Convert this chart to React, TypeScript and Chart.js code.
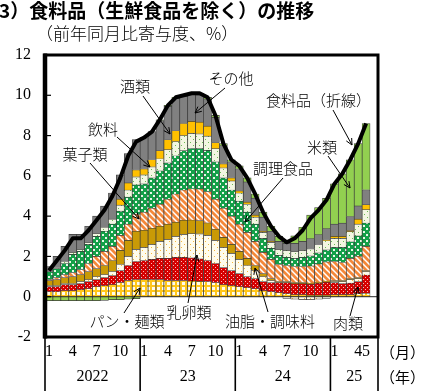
import React, { useEffect, useRef } from 'react';
import { Chart, registerables } from 'chart.js';

Chart.register(...registerables);

// ---- categories (Jan 2022 .. Jun 2025; last slot empty) ----
const categories = [
  '2022/1','2022/2','2022/3','2022/4','2022/5','2022/6','2022/7','2022/8','2022/9','2022/10','2022/11','2022/12',
  '2023/1','2023/2','2023/3','2023/4','2023/5','2023/6','2023/7','2023/8','2023/9','2023/10','2023/11','2023/12',
  '2024/1','2024/2','2024/3','2024/4','2024/5','2024/6','2024/7','2024/8','2024/9','2024/10','2024/11','2024/12',
  '2025/1','2025/2','2025/3','2025/4','2025/5','2025/6',
];
const monthTickLabels = [
  '1','','','4','','','7','','','10','','',
  '1','','','4','','','7','','','10','','',
  '1','','','4','','','7','','','10','','',
  '1','','','4','5','',
];
const yearLabels = ['2022', '23', '24', '25'];
const yearStartIndex = [0, 12, 24, 36];

// ---- series (contributions, % pt) ----
const breadNoodles = [
  0.25,0.25,0.30,0.30,0.35,0.40,0.50,0.55,0.60,0.70,0.80,0.85,
  0.85,0.85,0.85,0.80,0.80,0.80,0.78,0.76,0.75,0.70,0.60,0.55,
  0.50,0.45,0.40,0.30,0.25,0.20,0.15,0.10,0.10,0.08,0.08,0.08,
  0.10,0.10,0.10,0.15,0.18,
];
const meat = [
  0.25,0.25,0.30,0.30,0.30,0.35,0.35,0.40,0.45,0.60,0.75,0.90,
  0.95,1.00,1.05,1.10,1.15,1.15,1.15,1.12,1.05,0.95,0.85,0.75,
  0.65,0.55,0.50,0.45,0.45,0.50,0.55,0.55,0.55,0.55,0.60,0.65,
  0.60,0.55,0.58,0.60,0.90,
];
const dairyEggs = [
  0.05,0.05,0.05,0.05,0.10,0.10,0.15,0.15,0.20,0.30,0.45,0.60,
  0.65,0.75,0.85,0.95,1.05,1.15,1.20,1.24,1.25,1.15,1.00,0.85,
  0.70,0.55,0.40,0.25,0.10,0.00,-0.08,-0.12,-0.15,-0.15,-0.12,-0.08,
  0.05,0.10,0.17,0.15,0.17,
];
const oilsSeasonings = [
  0.25,0.30,0.30,0.35,0.35,0.40,0.40,0.45,0.55,0.70,0.80,0.90,
  0.85,0.80,0.75,0.75,0.70,0.70,0.68,0.66,0.62,0.55,0.50,0.45,
  0.40,0.35,0.25,0.15,0.10,0.05,0.05,0.05,0.05,0.05,0.05,0.05,
  0.05,0.05,0.05,0.05,0.05,
];
const confectionery = [
  0.05,0.10,0.15,0.20,0.25,0.40,0.60,0.70,0.70,0.75,0.80,0.85,
  0.90,1.00,1.10,1.25,1.40,1.50,1.55,1.57,1.55,1.50,1.45,1.40,
  1.35,1.30,1.20,1.05,0.95,0.85,0.80,0.80,0.80,0.85,0.90,0.95,
  0.95,0.90,1.00,1.07,1.20,
];
const preparedFoods = [
  0.40,0.45,0.55,0.90,0.90,0.95,1.00,1.00,1.10,1.20,1.35,1.45,
  1.40,1.50,1.65,1.80,1.90,1.95,2.00,2.00,2.05,1.85,1.50,1.30,
  1.15,1.00,0.85,0.70,0.55,0.45,0.40,0.40,0.45,0.50,0.55,0.60,
  0.70,0.75,0.83,1.00,1.16,
];
const beverages = [
  0.00,0.05,0.10,0.10,0.10,0.10,0.15,0.20,0.25,0.30,0.35,0.40,
  0.45,0.55,0.60,0.65,0.70,0.75,0.75,0.74,0.70,0.65,0.50,0.45,
  0.40,0.40,0.35,0.30,0.30,0.30,0.35,0.35,0.35,0.35,0.40,0.45,
  0.45,0.45,0.50,0.58,0.66,
];
const alcohol = [
  0.00,0.00,0.00,0.00,0.00,0.00,0.00,0.00,0.00,0.30,0.35,0.35,
  0.30,0.35,0.40,0.50,0.55,0.60,0.60,0.58,0.50,0.30,0.20,0.15,
  0.10,0.10,0.10,0.05,0.05,0.00,0.00,0.00,0.00,0.00,0.00,0.05,
  0.10,0.10,0.05,0.25,0.25,
];
const others = [
  0.25,0.55,0.75,0.90,0.75,0.80,0.85,1.05,1.30,1.20,1.45,1.50,
  1.55,1.40,1.50,1.65,1.60,1.35,1.32,1.35,1.35,1.25,0.90,0.80,
  1.10,1.00,0.85,0.70,0.50,0.40,0.35,0.40,0.45,0.50,0.50,0.55,
  0.60,0.65,0.70,0.66,0.74,
];
const rice = [
  -0.20,-0.20,-0.20,-0.20,-0.20,-0.20,-0.20,-0.18,-0.15,-0.15,-0.12,-0.10,
  0.00,0.00,0.03,0.05,0.05,0.05,0.07,0.08,0.08,0.10,0.10,0.10,
  0.15,0.20,0.20,0.25,0.25,0.25,0.13,0.37,0.70,1.17,1.34,1.50,
  2.00,2.45,2.82,3.09,3.29,
];
const foodTotal = [
  1.3,1.8,2.3,2.9,2.9,3.3,3.8,4.3,5.0,5.9,7.0,7.7,
  7.9,8.2,8.8,9.5,9.9,10.0,10.1,10.1,9.9,9.0,7.6,6.8,
  6.5,5.9,5.1,4.2,3.5,3.0,2.7,2.9,3.3,3.9,4.3,4.8,
  5.6,6.1,6.8,7.6,8.6,
];
const yTickValues = [-2, 0, 2, 4, 6, 8, 10, 12];

const SERIF = '"Liberation Serif", "DejaVu Serif", serif';
const JP = '"Noto Sans CJK JP", "Noto Sans", sans-serif';

function tile(size: number, draw: (c: CanvasRenderingContext2D) => void): CanvasPattern | string {
  const cv = document.createElement('canvas');
  cv.width = size; cv.height = size;
  const c = cv.getContext('2d')!;
  draw(c);
  const ctx = document.createElement('canvas').getContext('2d')!;
  return ctx.createPattern(cv, 'repeat') || '#ccc';
}

function makePatterns() {
  const checker = tile(5, (c) => {
    c.fillStyle = '#FFFBEA'; c.fillRect(0, 0, 5, 5);
    c.fillStyle = '#FFC61A'; c.fillRect(0, 0, 5, 2); c.fillRect(0, 0, 2, 5);
  });
  const redDots = tile(4, (c) => {
    c.fillStyle = '#D60000'; c.fillRect(0, 0, 4, 4);
    c.fillStyle = '#FFB8B8'; c.fillRect(1, 1, 1, 1); c.fillRect(3, 3, 1, 1);
  });
  const creamDots = tile(6, (c) => {
    c.fillStyle = '#FFFCEC'; c.fillRect(0, 0, 6, 6);
    c.fillStyle = '#F6B73C'; c.fillRect(1, 1, 1, 1); c.fillRect(4, 4, 1, 1);
  });
  const stripes = tile(6, (c) => {
    c.fillStyle = '#FFFFFF'; c.fillRect(0, 0, 6, 6);
    c.strokeStyle = '#F4883A'; c.lineWidth = 2.7;
    c.beginPath();
    c.moveTo(-3, 3); c.lineTo(3, 9);
    c.moveTo(0, 0); c.lineTo(6, 6);
    c.moveTo(3, -3); c.lineTo(9, 3);
    c.stroke();
  });
  const greenDots = tile(6, (c) => {
    c.fillStyle = '#12A048'; c.fillRect(0, 0, 6, 6);
    c.fillStyle = '#E8F7E8'; c.fillRect(0, 0, 2, 2); c.fillRect(3, 3, 2, 2);
  });
  const paleGreenDots = tile(6, (c) => {
    c.fillStyle = '#F3F6E2'; c.fillRect(0, 0, 6, 6);
    c.fillStyle = '#6CBB55'; c.fillRect(1, 1, 1, 1); c.fillRect(4, 4, 1, 1);
  });
  return { checker, redDots, creamDots, stripes, greenDots, paleGreenDots };
}

const overlayPlugin = {
  id: 'overlay',
  afterDraw(chart: any) {
    const { ctx, chartArea: a, scales } = chart;
    const xs = scales.x, ys = scales.y;
    const H = chart.height;
    ctx.save();
    // zero line
    const y0 = ys.getPixelForValue(0);
    ctx.strokeStyle = '#222'; ctx.lineWidth = 1;
    ctx.beginPath(); ctx.moveTo(a.left, y0); ctx.lineTo(a.right, y0); ctx.stroke();

    // frame
    ctx.strokeStyle = '#000';
    ctx.lineWidth = 3;
    ctx.strokeRect(a.left, a.top, a.right - a.left, a.bottom - a.top);
    ctx.lineWidth = 4.5;
    ctx.beginPath(); ctx.moveTo(a.left, a.top - 1.5); ctx.lineTo(a.left, a.bottom + 1.5); ctx.stroke();

    // inner y ticks
    ctx.lineWidth = 1.2;
    yTickValues.forEach((v) => {
      const py = ys.getPixelForValue(v);
      ctx.beginPath(); ctx.moveTo(a.left, py); ctx.lineTo(a.left + 6, py); ctx.stroke();
    });

    // x label area separators
    const half = (xs.getPixelForValue(1) - xs.getPixelForValue(0)) / 2;
    const seps = [a.left, ...yearStartIndex.slice(1).map((i) => xs.getPixelForValue(i) - half), a.right];
    ctx.lineWidth = 1.6;
    seps.forEach((sx) => {
      ctx.beginPath(); ctx.moveTo(sx, a.bottom); ctx.lineTo(sx, H); ctx.stroke();
    });

    // month & year labels
    ctx.fillStyle = '#000';
    ctx.font = `16px ${SERIF}`;
    ctx.textAlign = 'center';
    ctx.textBaseline = 'middle';
    monthTickLabels.forEach((lab, i) => {
      if (lab) ctx.fillText(lab, xs.getPixelForValue(i), a.bottom + 15);
    });
    yearLabels.forEach((lab, k) => {
      const s = seps[k], e = seps[k + 1];
      ctx.fillText(lab, (s + e) / 2, a.bottom + 40);
    });
    ctx.font = `15px ${JP}`;
    ctx.textAlign = 'left';
    ctx.fillText('（月）', a.right + 2, a.bottom + 15);
    ctx.fillText('（年）', a.right + 2, a.bottom + 40);

    // title & unit
    ctx.font = `bold 19px ${JP}`;
    ctx.textAlign = 'left';
    ctx.fillText('3）食料品（生鮮食品を除く）の推移', -1, 11);
    ctx.font = `300 17px ${JP}`;
    ctx.fillText('（前年同月比寄与度、%）', 36, 34);

    // annotations
    ctx.font = `300 15px ${JP}`;
    ctx.textAlign = 'center';
    const texts: [string, number, number][] = [
      ['酒類', 135, 86], ['その他', 231, 78], ['飲料', 103, 129], ['菓子類', 85, 154],
      ['米類', 322, 147], ['調理食品', 283, 168], ['パン・麺類', 127, 321],
      ['乳卵類', 189, 312], ['油脂・調味料', 270, 321], ['肉類', 348, 323],
    ];
    texts.forEach(([t, x, y]) => ctx.fillText(t, x, y));
    ctx.textAlign = 'left';
    ctx.fillText('食料品（折線）', 266, 100);

    const arrows: [number, number, number, number][] = [
      [143, 96, 170, 134], [117, 137, 150, 167], [225, 88, 195, 113], [90, 163, 139, 219],
      [333, 110, 352, 145], [328, 156, 350, 188], [283, 178, 245, 222], [124, 313, 140, 288],
      [188, 303, 197, 255], [268, 312, 255, 268], [350, 316, 358, 287],
    ];
    ctx.strokeStyle = '#000'; ctx.lineWidth = 1;
    arrows.forEach(([x1, y1, x2, y2]) => {
      ctx.beginPath(); ctx.moveTo(x1, y1); ctx.lineTo(x2, y2); ctx.stroke();
      const ang = Math.atan2(y2 - y1, x2 - x1);
      const L = 7, W = 0.45;
      ctx.beginPath();
      ctx.moveTo(x2 - L * Math.cos(ang - W), y2 - L * Math.sin(ang - W));
      ctx.lineTo(x2, y2);
      ctx.lineTo(x2 - L * Math.cos(ang + W), y2 - L * Math.sin(ang + W));
      ctx.stroke();
    });
    ctx.restore();
  },
};

export default function App() {
  const ref = useRef<HTMLCanvasElement>(null);
  useEffect(() => {
    const p = makePatterns();
    const bar = (label: string, data: number[], bg: any) => ({
      type: 'bar' as const, label, data, backgroundColor: bg,
      borderColor: '#3a3a3a', borderWidth: 0.7, stack: 'bars', order: 2,
      barPercentage: 1, categoryPercentage: 1,
    });
    const chart = new Chart(ref.current!, {
      type: 'bar',
      data: {
        labels: categories,
        datasets: [
          bar('パン・麺類', breadNoodles, p.checker),
          bar('肉類', meat, p.redDots),
          bar('乳卵類', dairyEggs, p.creamDots),
          bar('油脂・調味料', oilsSeasonings, '#C99A06'),
          bar('菓子類', confectionery, p.stripes),
          bar('調理食品', preparedFoods, p.greenDots),
          bar('飲料', beverages, p.paleGreenDots),
          bar('酒類', alcohol, '#FFC000'),
          bar('その他', others, '#808080'),
          bar('米類', rice, '#92D050'),
          {
            type: 'line' as const, label: '食料品', data: foodTotal, stack: 'line', order: 0,
            borderColor: '#000', borderWidth: 4, pointRadius: 0, tension: 0, fill: false,
            borderJoinStyle: 'round',
          } as any,
        ],
      },
      options: {
        responsive: false,
        animation: false,
        devicePixelRatio: 1,
        layout: { padding: { top: 55, right: 43, bottom: 54, left: 0 } },
        plugins: { legend: { display: false }, tooltip: { enabled: false } },
        scales: {
          x: { display: false, stacked: true, offset: true, grid: { display: false } },
          y: {
            stacked: true, min: -2, max: 12,
            border: { display: false },
            grid: { display: false, drawTicks: false },
            afterFit: (s: any) => { s.width = 45; },
            ticks: {
              stepSize: 2, padding: 14, color: '#000',
              font: { family: SERIF, size: 16 },
            },
          },
        },
      },
      plugins: [overlayPlugin],
    } as any);
    return () => chart.destroy();
  }, []);
  return (
    <div style={{ position: 'fixed', left: 0, top: 0, width: 421, height: 391, background: '#fff' }}>
      <canvas ref={ref} width={421} height={391} style={{ display: 'block' }} />
    </div>
  );
}
